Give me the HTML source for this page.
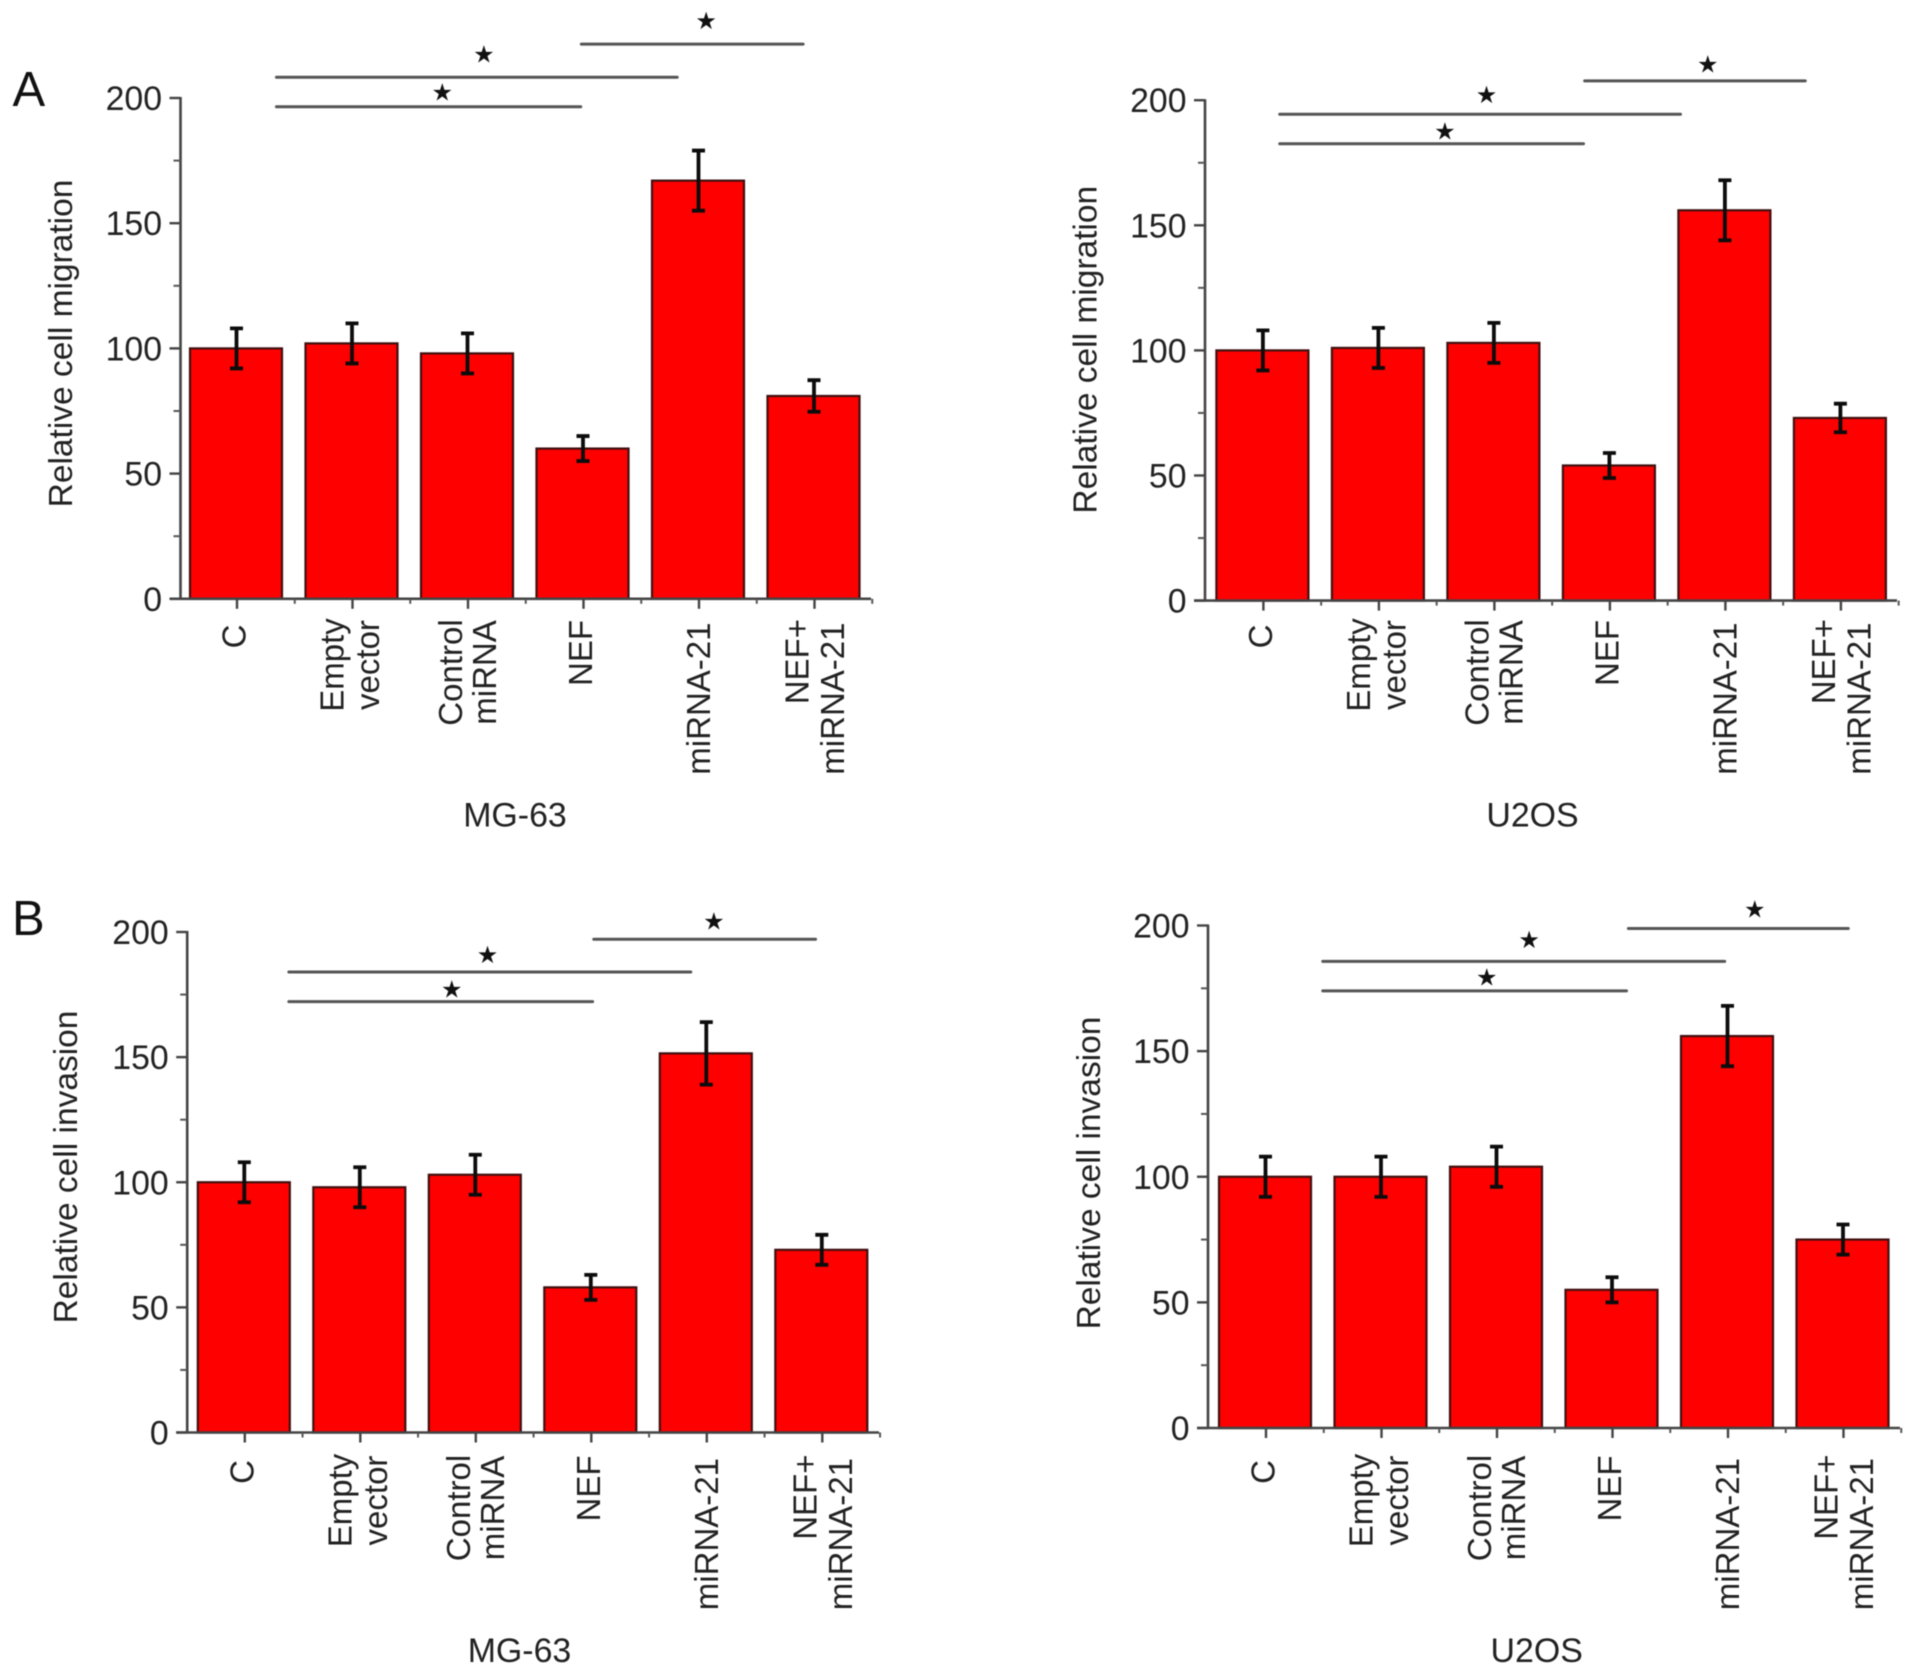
<!DOCTYPE html>
<html lang="en">
<head>
<meta charset="utf-8">
<title>Relative cell migration and invasion</title>
<style>
html,body{margin:0;padding:0;background:#fff;}
svg{display:block;filter:blur(0.65px);}
text{font-family:"Liberation Sans",Arial,sans-serif;fill:#222;}
</style>
</head>
<body>
<svg id="figure" width="1913" height="1674" viewBox="0 0 1913 1674" xmlns="http://www.w3.org/2000/svg">
  <rect width="1913" height="1674" fill="#fff"></rect>
  <text x="12.5" y="106" font-size="49" style="fill:#111">A</text>
  <text x="12" y="935" font-size="49" style="fill:#111">B</text>
</svg>
<script>
// Shared chart data
const categories = ['C', 'Empty vector', 'Control miRNA', 'NEF', 'miRNA-21', 'NEF+ miRNA-21'];
const yTickLabels = [0, 50, 100, 150, 200];
const yMinorTicks = [25, 75, 125, 175];

// Panel A, MG-63
const migrationMgValues = [100, 102, 98, 60, 167, 81];
const migrationMgErrors = [8, 8, 8, 5, 12, 6.3];
const migrationMgBrackets = [
  {from: 0.35, to: 2.985, level: 196.5, starAt: 1.786, starLevel: 202.1},
  {from: 0.35, to: 3.82, level: 208.3, starAt: 2.146, starLevel: 217.4},
  {from: 2.99, to: 4.91, level: 221.5, starAt: 4.07, starLevel: 230.8}
];

// Panel A, U2OS
const migrationU2Values = [100, 101, 103, 54, 156, 73];
const migrationU2Errors = [8, 8, 8, 5, 12, 5.7];
const migrationU2Brackets = [
  {from: 0.15, to: 2.78, level: 182.6, starAt: 1.58, starLevel: 187.4},
  {from: 0.15, to: 3.62, level: 194.4, starAt: 1.94, starLevel: 202.1},
  {from: 2.79, to: 4.7, level: 207.7, starAt: 3.856, starLevel: 214.3}
];

// Panel B, MG-63
const invasionMgValues = [100, 98, 103, 58, 151.5, 73];
const invasionMgErrors = [8, 8, 8, 5, 12.5, 6];
const invasionMgBrackets = [
  {from: 0.39, to: 3.02, level: 172.2, starAt: 1.8, starLevel: 177},
  {from: 0.39, to: 3.87, level: 184, starAt: 2.11, starLevel: 190.8},
  {from: 3.03, to: 4.95, level: 197.1, starAt: 4.07, starLevel: 204.2}
];

// Panel B, U2OS
const invasionU2Values = [100, 100, 104, 55, 156, 75];
const invasionU2Errors = [8, 8, 8, 5, 12, 6];
const invasionU2Brackets = [
  {from: 0.5, to: 3.13, level: 174, starAt: 1.92, starLevel: 179.3},
  {from: 0.5, to: 3.98, level: 185.7, starAt: 2.287, starLevel: 194.2},
  {from: 3.146, to: 5.05, level: 198.8, starAt: 4.24, starLevel: 206.4}
];

// Rendering
const svg = document.getElementById('figure');
const NS = 'http://www.w3.org/2000/svg';
const AXIS_MAX = 200;
const BAND = 115.5;
const BAR_W = 92;
const FONT = 33.8;
const LABEL_FONT = 33;
const TITLE_FONT = 33.5;

function mk(parent, tag, props, text) {
  const el = document.createElementNS(NS, tag);
  for (const k in props) el.setAttribute(k, props[k]);
  if (text !== undefined) el.textContent = text;
  parent.appendChild(el);
  return el;
}

function splitLabel(label) {
  if (label === 'Empty vector') return {lines: ['Empty', 'vector'], dx: [-8, 27.5], anchor: 'middle', top: [43.5, 43.5]};
  if (label === 'Control miRNA') return {lines: ['Control', 'miRNA'], dx: [-5, 29], anchor: 'middle', top: [51, 51]};
  if (label === 'NEF+ miRNA-21') return {lines: ['NEF+', 'miRNA-21'], dx: [-5, 30.5], anchor: 'end', top: [-2.5, 1]};
  if (label === 'miRNA-21') return {lines: [label], dx: [12], anchor: 'end', top: [1]};
  if (label === 'C') return {lines: [label], dx: [9.5], anchor: 'end', top: [3]};
  return {lines: [label], dx: [9.5], anchor: 'end', top: [-1.5]};
}

function drawPanel(p) {
  const g = mk(svg, 'g', {});
  
  

  const yScale = v => p.y0 - (v / AXIS_MAX) * (p.y0 - p.yTop);
  const xBand = i => p.firstCenter + i * BAND;

  // Bars
  p.values.forEach((v, i) => {
    const bar = mk(g, 'rect', {
      x: xBand(i) - BAR_W / 2, y: yScale(v), width: BAR_W, height: yScale(0) - yScale(v),
      fill: '#ff0000', stroke: '#401010', 'stroke-width': 2.2
    });
    
    
  });

  // Error bars
  p.values.forEach((v, i) => {
    const cx = xBand(i) + 0.5;
    const hi = yScale(v + p.errors[i]);
    const lo = yScale(v - p.errors[i]);
    const eg = mk(g, 'path', {
      d: 'M' + cx + ' ' + hi + 'V' + lo + 'M' + (cx - 6.5) + ' ' + hi + 'H' + (cx + 6.5) + 'M' + (cx - 6.5) + ' ' + lo + 'H' + (cx + 6.5),
      stroke: '#0c0c0c', 'stroke-width': 3.8, fill: 'none'
    });
    
    
  });

  // Axes
  const yAxis = mk(g, 'line', {x1: p.axisX, x2: p.axisX, y1: yScale(AXIS_MAX) - 1, y2: yScale(0) + 1, stroke: '#444', 'stroke-width': 2.6});
  
  
  const xAxis = mk(g, 'line', {x1: p.axisX - 11, x2: p.axisEnd, y1: yScale(0), y2: yScale(0), stroke: '#444', 'stroke-width': 2.6});
  
  

  yTickLabels.forEach(v => {
    const y = yScale(v);
    const t = mk(g, 'line', {x1: p.axisX - 11, x2: p.axisX, y1: y, y2: y, stroke: '#444', 'stroke-width': 2.4});
    
    
    const lab = mk(g, 'text', {x: p.axisX - 18.5, y: y + 12, 'text-anchor': 'end', 'font-size': FONT}, String(v));
    
    
  });
  yMinorTicks.forEach(v => {
    const y = yScale(v);
    const t = mk(g, 'line', {x1: p.axisX - 7, x2: p.axisX, y1: y, y2: y, stroke: '#555', 'stroke-width': 2});
    
    
  });

  categories.forEach((c, i) => {
    const x = xBand(i);
    const tx = x + 1;
    const t = mk(g, 'line', {x1: tx, x2: tx, y1: p.y0, y2: p.y0 + 10, stroke: '#444', 'stroke-width': 2.4});
    
    
    const m = mk(g, 'line', {x1: tx + BAND / 2, x2: tx + BAND / 2, y1: p.y0, y2: p.y0 + 5, stroke: '#555', 'stroke-width': 2});
    
    
    const spec = splitLabel(c);
    spec.lines.forEach((line, j) => {
      const lx = x + spec.dx[j];
      const ly = p.labelTop + spec.top[j];
      const lab = mk(g, 'text', {
        x: lx, y: ly, 'text-anchor': spec.anchor, 'font-size': LABEL_FONT,
        transform: 'rotate(-90 ' + lx + ' ' + ly + ')'
      }, line);
      
      
    });
  });

  // Axis titles
  const yTitle = mk(g, 'text', {
    x: p.yTitleX, y: p.yTitleY, 'text-anchor': 'middle', 'font-size': TITLE_FONT,
    transform: 'rotate(-90 ' + p.yTitleX + ' ' + p.yTitleY + ')'
  }, p.yTitle);
  
  
  const xTitle = mk(g, 'text', {x: p.xTitleX, y: p.xTitleY, 'text-anchor': 'middle', 'font-size': 33.9}, p.xTitle);
  
  

  // Significance brackets
  p.brackets.forEach(b => {
    const l = mk(g, 'line', {x1: xBand(b.from), x2: xBand(b.to), y1: yScale(b.level), y2: yScale(b.level), stroke: '#555', 'stroke-width': 3, 'stroke-linecap': 'round'});
    
    
    const s = mk(g, 'text', {x: xBand(b.starAt), y: yScale(b.starLevel) + 8, 'text-anchor': 'middle', 'font-size': 24, style: 'fill:#111;font-family:"DejaVu Sans",sans-serif'}, '★');
    
    
  });
}

drawPanel({
  name: 'chart-migration-mg63', values: migrationMgValues, errors: migrationMgErrors, brackets: migrationMgBrackets,
  axisX: 180.5, axisEnd: 871, y0: 598.8, yTop: 98, firstCenter: 236, labelTop: 621.5,
  yTitle: 'Relative cell migration', yTitleX: 72, yTitleY: 343.5, xTitle: 'MG-63', xTitleX: 515, xTitleY: 826.5
});
drawPanel({
  name: 'chart-migration-u2os', values: migrationU2Values, errors: migrationU2Errors, brackets: migrationU2Brackets,
  axisX: 1205, axisEnd: 1897, y0: 600.6, yTop: 100.2, firstCenter: 1262.4, labelTop: 621.5,
  yTitle: 'Relative cell migration', yTitleX: 1096.6, yTitleY: 349.7, xTitle: 'U2OS', xTitleX: 1532.5, xTitleY: 826.5
});
drawPanel({
  name: 'chart-invasion-mg63', values: invasionMgValues, errors: invasionMgErrors, brackets: invasionMgBrackets,
  axisX: 187.2, axisEnd: 879, y0: 1432.5, yTop: 932, firstCenter: 243.8, labelTop: 1457,
  yTitle: 'Relative cell invasion', yTitleX: 77, yTitleY: 1167, xTitle: 'MG-63', xTitleX: 519.5, xTitleY: 1662
});
drawPanel({
  name: 'chart-invasion-u2os', values: invasionU2Values, errors: invasionU2Errors, brackets: invasionU2Brackets,
  axisX: 1208, axisEnd: 1900, y0: 1428, yTop: 925.5, firstCenter: 1265, labelTop: 1457,
  yTitle: 'Relative cell invasion', yTitleX: 1099.8, yTitleY: 1173, xTitle: 'U2OS', xTitleX: 1536.7, xTitleY: 1662
});
</script>
</body>
</html>
